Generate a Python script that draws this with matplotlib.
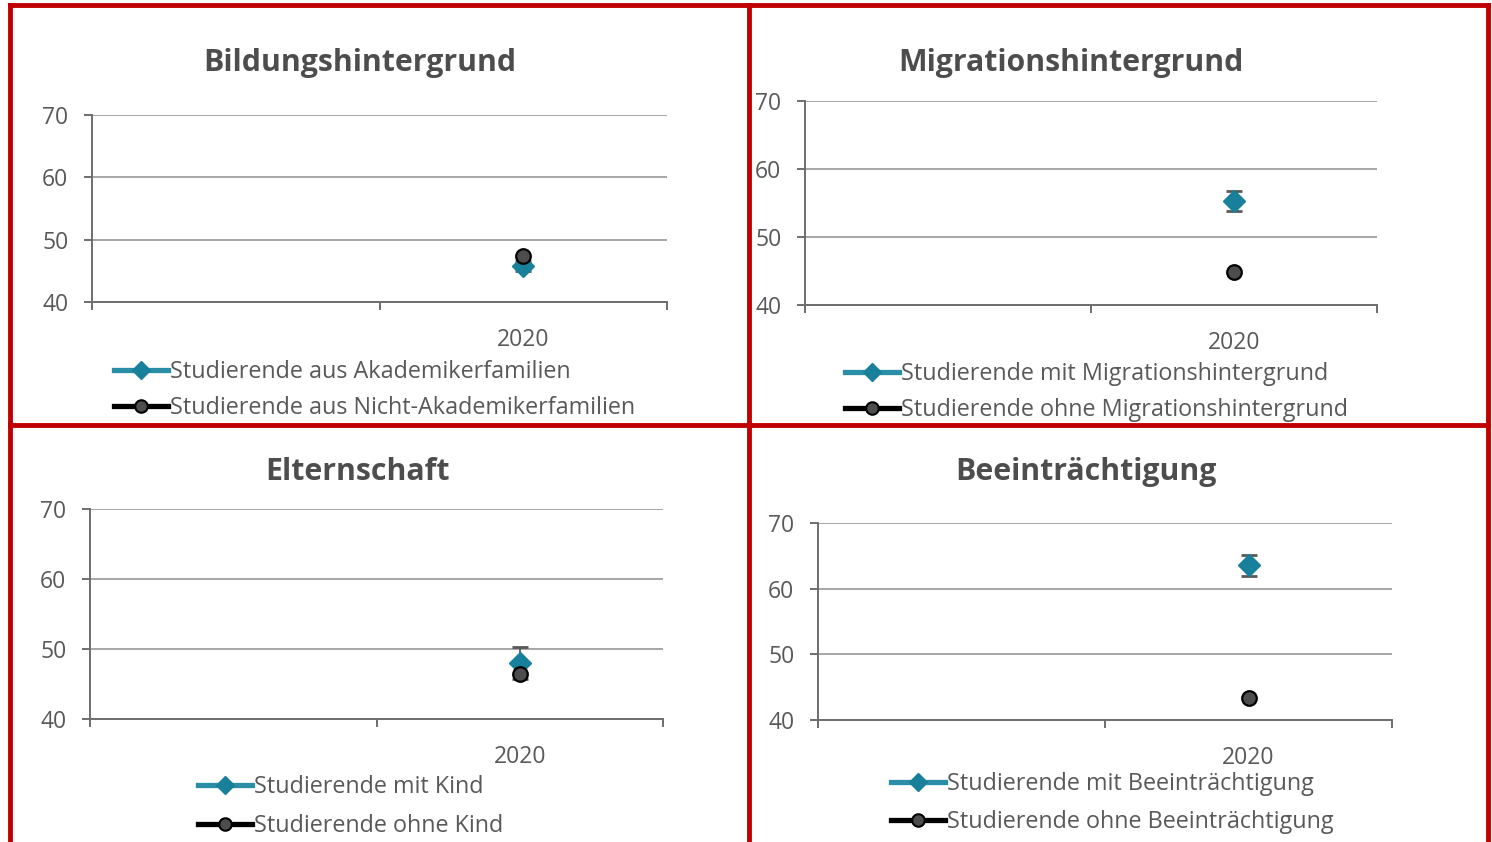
import matplotlib
matplotlib.use("Agg")
import matplotlib.pyplot as plt
from matplotlib.lines import Line2D

plt.rcParams['font.family'] = ['Open Sans', 'DejaVu Sans']

W, H = 1492, 842

# data (percent values)
categories = ["", "2020"]
titles = ["Bildungshintergrund", "Migrationshintergrund", "Elternschaft", "Beeinträchtigung"]
series_a = [45.7, 55.3, 48.0, 63.6]          # teal diamonds
series_a_err = [0.8, 1.5, 2.3, 1.6]
series_b = [47.4, 44.9, 46.4, 43.3]          # dark circles
labels_a = ["Studierende aus Akademikerfamilien", "Studierende mit Migrationshintergrund",
            "Studierende mit Kind", "Studierende mit Beeinträchtigung"]
labels_b = ["Studierende aus Nicht-Akademikerfamilien", "Studierende ohne Migrationshintergrund",
            "Studierende ohne Kind", "Studierende ohne Beeinträchtigung"]
yticks = [40, 50, 60, 70]

TEAL = "#18809A"
TEAL_LINE = "#2A8EA6"
TXT = "#595959"
TITLE = "#4D4D4D"
GRID = "#A6A6A6"
AXIS = "#6E6E6E"
RED = "#C00000"

# layout in pixels: axes box (left, right, top, bottom), title pos, legend pos
axes_px = [(92, 667, 115, 302), (805, 1377, 101, 305), (90, 663, 509, 719), (818, 1392, 523, 720)]
title_px = [(360, 63), (1071, 63), (357, 472), (1086, 472)]
legend_px = [(114, 360), (845, 362), (198, 775), (891, 772)]
legend_gap = [0.51, 0.51, 0.63, 0.6]

fig = plt.figure(figsize=(W / 100, H / 100), dpi=100)


def fx(x):
    return x / W


def fy(y):
    return 1 - y / H


for i in range(4):
    l, r, t, b = axes_px[i]
    ax = fig.add_axes([fx(l), fy(b), fx(r - l), (b - t) / H])
    xs = [len(categories) - 1 + 0.5]
    ax.errorbar(xs, [series_a[i]], yerr=[series_a_err[i]], fmt='none', ecolor="#595959",
                elinewidth=1.3, capsize=6, capthick=2, zorder=3)
    ax.plot(xs, [series_a[i]], linestyle='none', marker='D', markersize=11.5,
            color=TEAL, markeredgecolor=TEAL, zorder=4)
    ax.plot(xs, [series_b[i]], linestyle='none', marker='o', markersize=10.5,
            markerfacecolor="#4D4D4D", markeredgecolor="black", markeredgewidth=1.6, zorder=5)

    ax.set_xlim(0, len(categories))
    ax.set_ylim(40, 70)
    ax.set_yticks(yticks)
    ax.set_yticklabels([str(v) for v in yticks])
    ax.yaxis.grid(True, color=GRID, linewidth=1.4)
    ax.set_axisbelow(True)
    ax.set_xticks(range(len(categories) + 1))
    ax.set_xticklabels([])
    ax.set_xticks([k + 0.5 for k in range(len(categories))], minor=True)
    ax.set_xticklabels(categories, minor=True)
    ax.tick_params(axis='x', which='minor', length=0, pad=19, labelsize=16.5, labelcolor=TXT)
    ax.tick_params(axis='x', which='major', length=6, width=1.4, color=AXIS)
    ax.tick_params(axis='y', length=6, width=1.4, color=AXIS, labelsize=16.5,
                   labelcolor=TXT, pad=11)
    for s in ['top', 'right']:
        ax.spines[s].set_visible(False)
    for s in ['left', 'bottom']:
        ax.spines[s].set_color(AXIS)
        ax.spines[s].set_linewidth(1.4)

    tx, ty = title_px[i]
    fig.text(fx(tx), fy(ty), titles[i], ha='center', va='center', fontsize=21.8,
             fontweight='bold', color=TITLE)

    handles = [
        Line2D([], [], color=TEAL_LINE, linewidth=3.8, marker='D', markersize=9,
               markerfacecolor=TEAL, markeredgecolor=TEAL),
        Line2D([], [], color="black", linewidth=3.8, marker='o', markersize=9,
               markerfacecolor="#4D4D4D", markeredgecolor="black", markeredgewidth=1.5),
    ]
    lx, ly = legend_px[i]
    fig.legend(handles, [labels_a[i], labels_b[i]], loc='upper left',
               bbox_to_anchor=(fx(lx), fy(ly)), frameon=False, fontsize=16.8,
               labelcolor=TXT, handlelength=2.3, handletextpad=0.12,
               labelspacing=legend_gap[i], borderaxespad=0, borderpad=0)

# red frames around the four panels
lw = 3.5
for x in (10, 749, 1488):
    fig.add_artist(Line2D([fx(x), fx(x)], [fy(5), 0], color=RED, linewidth=lw))
for y in (5, 425):
    fig.add_artist(Line2D([fx(10), fx(1488)], [fy(y), fy(y)], color=RED, linewidth=lw))

fig.savefig("out.png", dpi=100)
